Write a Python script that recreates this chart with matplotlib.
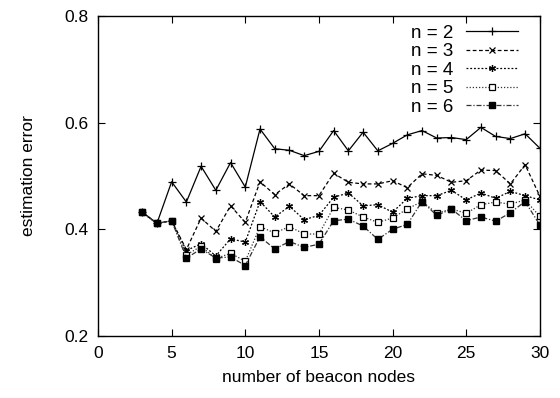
import matplotlib
matplotlib.use("Agg")
import matplotlib.pyplot as plt

plt.rcParams["font.family"] = ["Liberation Sans", "DejaVu Sans"]

beacons = list(range(3, 31))

err_n2 = [0.432, 0.411, 0.489, 0.451, 0.518, 0.473, 0.525, 0.479, 0.588, 0.551,
          0.548, 0.538, 0.546, 0.585, 0.547, 0.582, 0.547, 0.561, 0.577, 0.585,
          0.571, 0.572, 0.568, 0.591, 0.574, 0.570, 0.579, 0.552]
err_n3 = [0.432, 0.411, 0.416, 0.362, 0.421, 0.396, 0.444, 0.413, 0.489, 0.465,
          0.485, 0.463, 0.463, 0.505, 0.488, 0.485, 0.485, 0.491, 0.478, 0.504,
          0.501, 0.488, 0.491, 0.511, 0.510, 0.485, 0.521, 0.462]
err_n4 = [0.432, 0.411, 0.416, 0.360, 0.373, 0.350, 0.382, 0.376, 0.452, 0.423,
          0.443, 0.418, 0.426, 0.460, 0.468, 0.444, 0.446, 0.432, 0.458, 0.463,
          0.463, 0.473, 0.455, 0.468, 0.458, 0.471, 0.463, 0.455]
err_n5 = [0.432, 0.411, 0.416, 0.352, 0.368, 0.345, 0.355, 0.340, 0.405, 0.393,
          0.405, 0.391, 0.391, 0.441, 0.436, 0.423, 0.413, 0.421, 0.438, 0.452,
          0.430, 0.438, 0.430, 0.446, 0.451, 0.447, 0.455, 0.424]
err_n6 = [0.432, 0.411, 0.416, 0.346, 0.363, 0.346, 0.348, 0.332, 0.386, 0.363,
          0.377, 0.366, 0.372, 0.416, 0.419, 0.406, 0.381, 0.400, 0.409, 0.452,
          0.426, 0.438, 0.416, 0.423, 0.415, 0.431, 0.452, 0.408]

labels = ["n = 2", "n = 3", "n = 4", "n = 5", "n = 6"]
series = [err_n2, err_n3, err_n4, err_n5, err_n6]
styles = [
    dict(linestyle="-", marker="+", markersize=6, color="black", mew=0.9),
    dict(linestyle=(0, (3, 2)), marker="x", markersize=4.5, color="black", mew=0.9),
    dict(linestyle=(0, (1.5, 1.5)), marker=(6, 2, 0), markersize=5, color="black", mew=0.9),
    dict(linestyle=(0, (1, 1.5)), marker="s", markersize=4.5, color="#333333",
         mfc="white", mec="black", mew=0.9),
    dict(linestyle=(0, (4, 1.5, 1, 1.5)), marker="s", markersize=5, color="#333333",
         mfc="black", mec="black"),
]

fig = plt.figure(figsize=(5.6, 3.98), dpi=100)
ax = fig.add_axes([0.175, 0.156, 0.789, 0.804])

for ys, lab, st in zip(series, labels, styles):
    ax.plot(beacons, ys, label=lab, linewidth=0.9, **st)

ax.set_xlim(0, 30)
ax.set_ylim(0.2, 0.8)
ax.set_xticks([0, 5, 10, 15, 20, 25, 30])
ax.set_yticks([0.2, 0.4, 0.6, 0.8])
ax.set_yticklabels(["0.2", "0.4", "0.6", "0.8"])
ax.tick_params(direction="in", top=True, right=True, length=5, width=0.8,
               labelsize=12.5, pad=7)
for sp in ax.spines.values():
    sp.set_linewidth(1.0)

ax.set_xlabel("number of beacon nodes", fontsize=12.5, labelpad=7)
ax.set_ylabel("estimation error", fontsize=12.5, labelpad=20)

leg = ax.legend(loc="upper right", bbox_to_anchor=(0.968, 0.997), frameon=False,
                markerfirst=False, numpoints=1, handlelength=2.8,
                fontsize=13.5, labelspacing=0.08, handletextpad=0.65,
                borderaxespad=0.0)

fig.savefig("out.png", dpi=100)
